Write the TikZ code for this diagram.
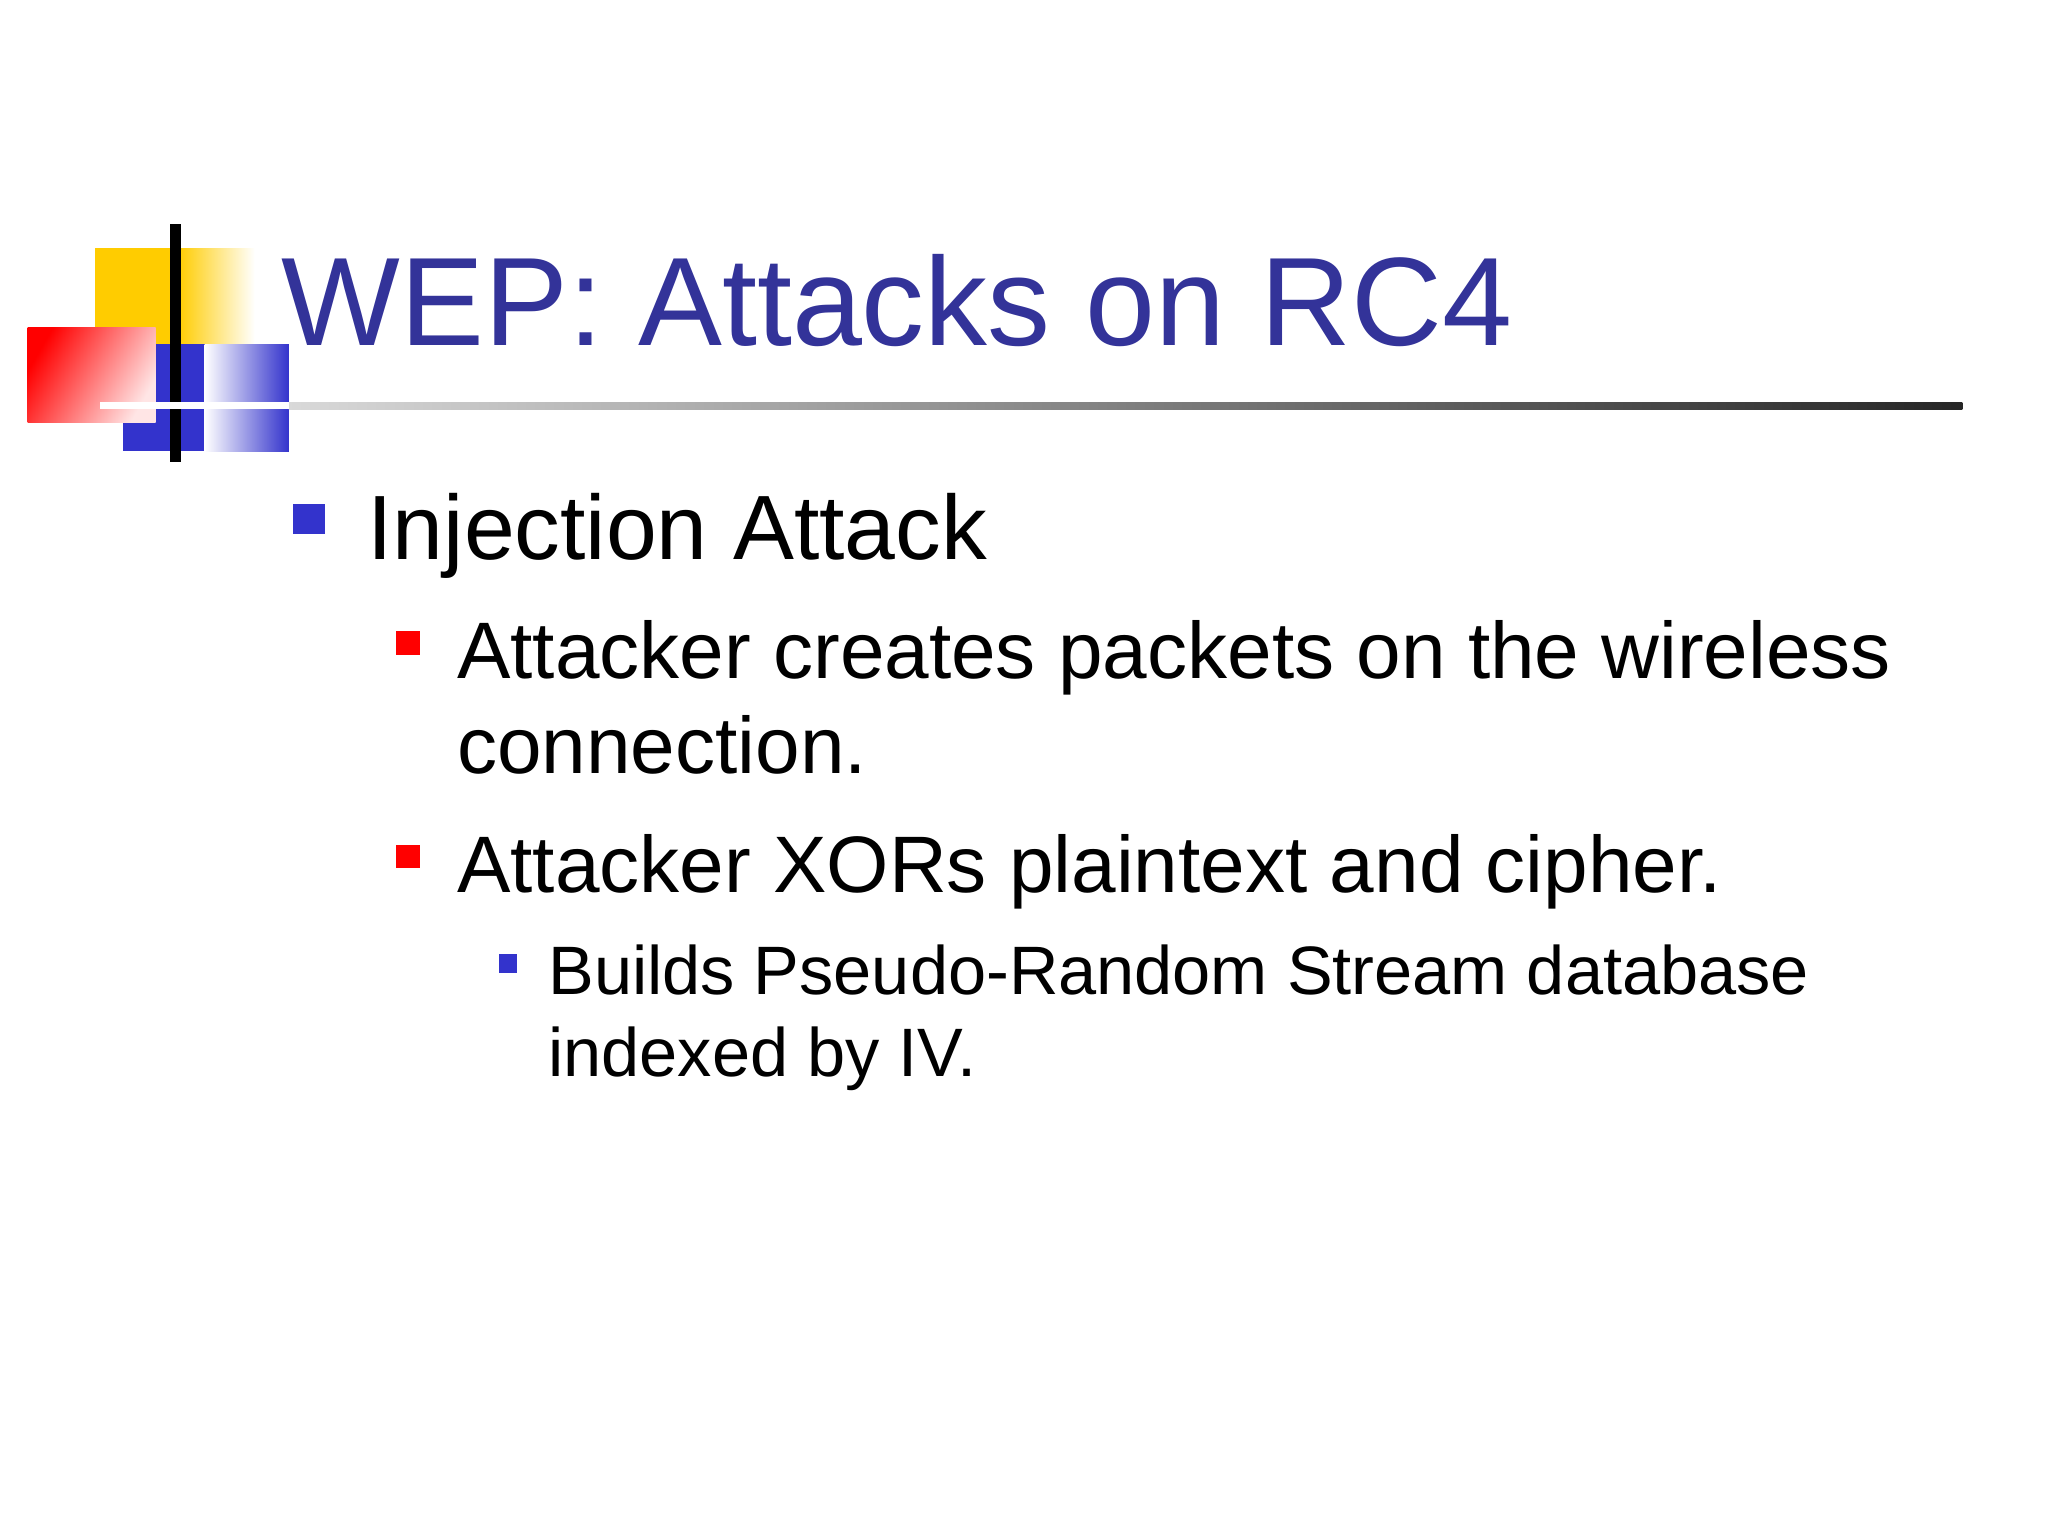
\documentclass[tikz,border=0pt]{standalone}
\usepackage{fontspec}
\setmainfont{Liberation Sans}
\definecolor{ttl}{RGB}{51,51,153}
\definecolor{bblue}{RGB}{51,51,204}
\definecolor{yel}{RGB}{255,204,0}
\begin{document}
\begin{tikzpicture}[x=0.013196cm,y=-0.013196cm,
  txt/.style={anchor=base west,inner sep=0pt,text=black}]
\useasboundingbox[fill=white] (0,0) rectangle (1552,1164);
% logo
\fill[yel] (72,188) rectangle (135,262);
\shade[left color=yel,right color=white] (135,188) rectangle (193,262);
\fill[bblue] (93,261) rectangle (155,342);
\shade[left color=white,right color=bblue] (155,261) rectangle (219,342);
\shade[left color=red,right color=red!10,shading angle=60] (21,248) rectangle (118,320);
\draw[line width=3pt] (133,170) -- (133,350);
\shade[left color=gray!30,right color=black!85] (219,305) rectangle (1487,310);
\fill[white] (76,305) rectangle (219,310);
% title
\node[txt,text=ttl,font=\fontsize{35.8}{42}\selectfont] (title) at (213,262) {WEP: Attacks on RC4};
% bullets
\fill[bblue] (222,382) rectangle (246,405);
\node[txt,font=\fontsize{26}{30}\selectfont] (b1) at (278,424) {Injection Attack};
\fill[red] (300,478) rectangle (318,496);
\node[txt,font=\fontsize{22.8}{27}\selectfont] (b2) at (346,514) {Attacker creates packets on the wireless};
\node[txt,font=\fontsize{22.8}{27}\selectfont] (b2b) at (346,586) {connection.};
\fill[red] (300,640) rectangle (318,658);
\node[txt,font=\fontsize{22.8}{27}\selectfont] (b3) at (346,676) {Attacker XORs plaintext and cipher.};
\fill[bblue] (378,723) rectangle (392,737);
\node[txt,font=\fontsize{19.5}{23}\selectfont] (b4) at (415,754) {Builds Pseudo-Random Stream database};
\node[txt,font=\fontsize{19.5}{23}\selectfont] (b4b) at (415,816) {indexed by IV.};
\end{tikzpicture}
\end{document}
